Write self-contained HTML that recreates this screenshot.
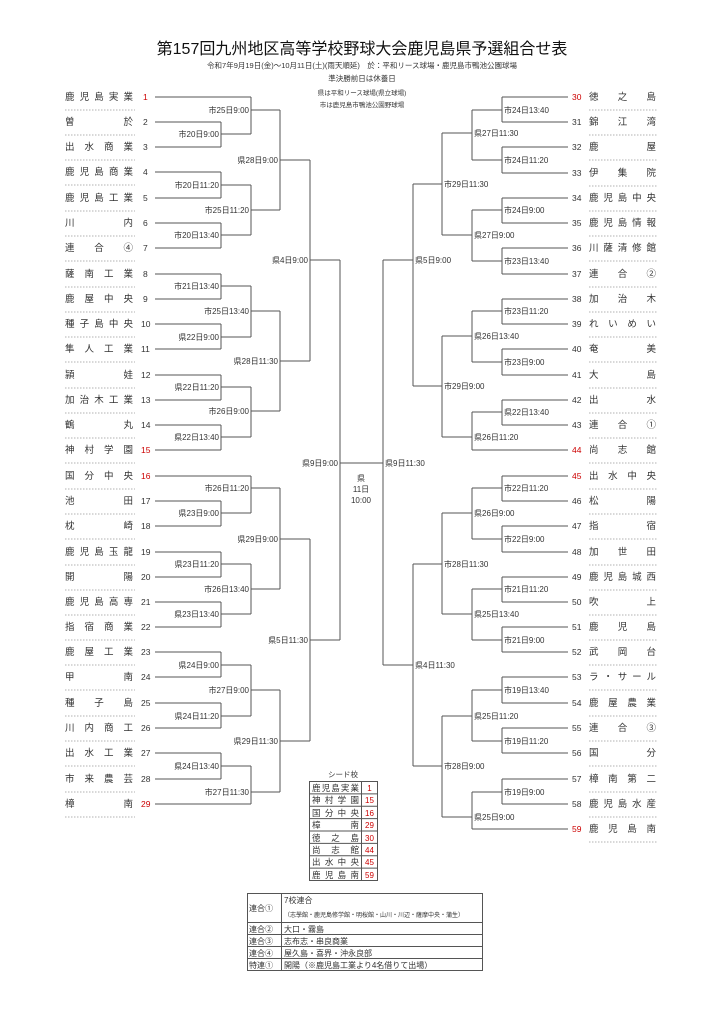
<!DOCTYPE html>
<html><head><meta charset="utf-8"><style>
html,body{margin:0;padding:0;background:#fff;}
svg{display:block;}
text{font-family:"Liberation Sans","Noto Sans CJK JP",sans-serif;fill:#333;}
.l{stroke:#555;stroke-width:1;fill:none;}
.d{stroke:#999;stroke-width:0.8;stroke-dasharray:1.5 1.5;}
.lb{font-size:8px;}
.nm{font-size:9.5px;}
.no{font-size:8.5px;}
.r{fill:#c00;}
</style></head><body>
<svg width="724" height="1024" viewBox="0 0 724 1024" xmlns="http://www.w3.org/2000/svg">
<rect width="724" height="1024" fill="#fff"/>
<text x="362" y="54" text-anchor="middle" font-size="16" style="fill:#111">第157回九州地区高等学校野球大会鹿児島県予選組合せ表</text>
<text x="362" y="68" text-anchor="middle" font-size="7.5">令和7年9月19日(金)～10月11日(土)(雨天順延)　於：平和リース球場・鹿児島市鴨池公園球場</text>
<text x="362" y="81" text-anchor="middle" font-size="7.5">準決勝前日は休養日</text>
<text x="362" y="95" text-anchor="middle" font-size="6.5">県は平和リース球場(県立球場)</text>
<text x="362" y="107" text-anchor="middle" font-size="6.5">市は鹿児島市鴨池公園野球場</text>

<!-- LEFT TEAMS -->
<g class="nm">
<text x="65" y="100" textLength="68" lengthAdjust="spacing">鹿児島実業</text>
<text x="65" y="125" textLength="68" lengthAdjust="spacing">曽於</text>
<text x="65" y="150" textLength="68" lengthAdjust="spacing">出水商業</text>
<text x="65" y="175" textLength="68" lengthAdjust="spacing">鹿児島商業</text>
<text x="65" y="201" textLength="68" lengthAdjust="spacing">鹿児島工業</text>
<text x="65" y="226" textLength="68" lengthAdjust="spacing">川内</text>
<text x="65" y="251" textLength="68" lengthAdjust="spacing">連合④</text>
<text x="65" y="277" textLength="68" lengthAdjust="spacing">薩南工業</text>
<text x="65" y="302" textLength="68" lengthAdjust="spacing">鹿屋中央</text>
<text x="65" y="327" textLength="68" lengthAdjust="spacing">種子島中央</text>
<text x="65" y="352" textLength="68" lengthAdjust="spacing">隼人工業</text>
<text x="65" y="378" textLength="68" lengthAdjust="spacing">頴娃</text>
<text x="65" y="403" textLength="68" lengthAdjust="spacing">加治木工業</text>
<text x="65" y="428" textLength="68" lengthAdjust="spacing">鶴丸</text>
<text x="65" y="453" textLength="68" lengthAdjust="spacing">神村学園</text>
<text x="65" y="479" textLength="68" lengthAdjust="spacing">国分中央</text>
<text x="65" y="504" textLength="68" lengthAdjust="spacing">池田</text>
<text x="65" y="529" textLength="68" lengthAdjust="spacing">枕崎</text>
<text x="65" y="555" textLength="68" lengthAdjust="spacing">鹿児島玉龍</text>
<text x="65" y="580" textLength="68" lengthAdjust="spacing">開陽</text>
<text x="65" y="605" textLength="68" lengthAdjust="spacing">鹿児島高専</text>
<text x="65" y="630" textLength="68" lengthAdjust="spacing">指宿商業</text>
<text x="65" y="655" textLength="68" lengthAdjust="spacing">鹿屋工業</text>
<text x="65" y="680" textLength="68" lengthAdjust="spacing">甲南</text>
<text x="65" y="706" textLength="68" lengthAdjust="spacing">種子島</text>
<text x="65" y="731" textLength="68" lengthAdjust="spacing">川内商工</text>
<text x="65" y="756" textLength="68" lengthAdjust="spacing">出水工業</text>
<text x="65" y="782" textLength="68" lengthAdjust="spacing">市来農芸</text>
<text x="65" y="807" textLength="68" lengthAdjust="spacing">樟南</text>
</g>
<g class="no">
<text x="143" y="100" class="r">1</text><text x="143" y="125">2</text><text x="143" y="150">3</text><text x="143" y="175">4</text><text x="143" y="201">5</text><text x="143" y="226">6</text><text x="143" y="251">7</text><text x="143" y="277">8</text><text x="143" y="302">9</text><text x="141" y="327">10</text><text x="141" y="352">11</text><text x="141" y="378">12</text><text x="141" y="403">13</text><text x="141" y="428">14</text><text x="141" y="453" class="r">15</text><text x="141" y="479" class="r">16</text><text x="141" y="504">17</text><text x="141" y="529">18</text><text x="141" y="555">19</text><text x="141" y="580">20</text><text x="141" y="605">21</text><text x="141" y="630">22</text><text x="141" y="655">23</text><text x="141" y="680">24</text><text x="141" y="706">25</text><text x="141" y="731">26</text><text x="141" y="756">27</text><text x="141" y="782">28</text><text x="141" y="807" class="r">29</text>
</g>
<path class="d" d="M65 110H135M65 135H135M65 160H135M65 185H135M65 211H135M65 236H135M65 261H135M65 287H135M65 312H135M65 337H135M65 362H135M65 388H135M65 413H135M65 438H135M65 463H135M65 489H135M65 514H135M65 539H135M65 565H135M65 590H135M65 615H135M65 640H135M65 665H135M65 690H135M65 716H135M65 741H135M65 766H135M65 792H135M65 817H135"/>

<!-- RIGHT TEAMS -->
<g class="nm">
<text x="589" y="100" textLength="67" lengthAdjust="spacing">徳之島</text>
<text x="589" y="125" textLength="67" lengthAdjust="spacing">錦江湾</text>
<text x="589" y="150" textLength="67" lengthAdjust="spacing">鹿屋</text>
<text x="589" y="176" textLength="67" lengthAdjust="spacing">伊集院</text>
<text x="589" y="201" textLength="67" lengthAdjust="spacing">鹿児島中央</text>
<text x="589" y="226" textLength="67" lengthAdjust="spacing">鹿児島情報</text>
<text x="589" y="251" textLength="67" lengthAdjust="spacing">川薩清修館</text>
<text x="589" y="277" textLength="67" lengthAdjust="spacing">連合②</text>
<text x="589" y="302" textLength="67" lengthAdjust="spacing">加治木</text>
<text x="589" y="327" textLength="67" lengthAdjust="spacing">れいめい</text>
<text x="589" y="352" textLength="67" lengthAdjust="spacing">奄美</text>
<text x="589" y="378" textLength="67" lengthAdjust="spacing">大島</text>
<text x="589" y="403" textLength="67" lengthAdjust="spacing">出水</text>
<text x="589" y="428" textLength="67" lengthAdjust="spacing">連合①</text>
<text x="589" y="453" textLength="67" lengthAdjust="spacing">尚志館</text>
<text x="589" y="479" textLength="67" lengthAdjust="spacing">出水中央</text>
<text x="589" y="504" textLength="67" lengthAdjust="spacing">松陽</text>
<text x="589" y="529" textLength="67" lengthAdjust="spacing">指宿</text>
<text x="589" y="555" textLength="67" lengthAdjust="spacing">加世田</text>
<text x="589" y="580" textLength="67" lengthAdjust="spacing">鹿児島城西</text>
<text x="589" y="605" textLength="67" lengthAdjust="spacing">吹上</text>
<text x="589" y="630" textLength="67" lengthAdjust="spacing">鹿児島</text>
<text x="589" y="655" textLength="67" lengthAdjust="spacing">武岡台</text>
<text x="589" y="680" textLength="67" lengthAdjust="spacing">ラ・サール</text>
<text x="589" y="706" textLength="67" lengthAdjust="spacing">鹿屋農業</text>
<text x="589" y="731" textLength="67" lengthAdjust="spacing">連合③</text>
<text x="589" y="756" textLength="67" lengthAdjust="spacing">国分</text>
<text x="589" y="782" textLength="67" lengthAdjust="spacing">樟南第二</text>
<text x="589" y="807" textLength="67" lengthAdjust="spacing">鹿児島水産</text>
<text x="589" y="832" textLength="67" lengthAdjust="spacing">鹿児島南</text>
</g>
<g class="no">
<text x="572" y="100" class="r">30</text><text x="572" y="125">31</text><text x="572" y="150">32</text><text x="572" y="176">33</text><text x="572" y="201">34</text><text x="572" y="226">35</text><text x="572" y="251">36</text><text x="572" y="277">37</text><text x="572" y="302">38</text><text x="572" y="327">39</text><text x="572" y="352">40</text><text x="572" y="378">41</text><text x="572" y="403">42</text><text x="572" y="428">43</text><text x="572" y="453" class="r">44</text><text x="572" y="479" class="r">45</text><text x="572" y="504">46</text><text x="572" y="529">47</text><text x="572" y="555">48</text><text x="572" y="580">49</text><text x="572" y="605">50</text><text x="572" y="630">51</text><text x="572" y="655">52</text><text x="572" y="680">53</text><text x="572" y="706">54</text><text x="572" y="731">55</text><text x="572" y="756">56</text><text x="572" y="782">57</text><text x="572" y="807">58</text><text x="572" y="832" class="r">59</text>
</g>
<path class="d" d="M589 110H657M589 135H657M589 160H657M589 186H657M589 211H657M589 236H657M589 261H657M589 287H657M589 312H657M589 337H657M589 362H657M589 388H657M589 413H657M589 438H657M589 463H657M589 489H657M589 514H657M589 539H657M589 565H657M589 590H657M589 615H657M589 640H657M589 665H657M589 690H657M589 716H657M589 741H657M589 766H657M589 792H657M589 817H657M589 842H657"/>

<!-- LEFT BRACKET LINES -->
<path class="l" d="
M155 97H251 M155 122H221 M155 147H221 M155 172H221 M155 198H221 M155 223H221 M155 248H221
M155 274H221 M155 299H221 M155 324H221 M155 349H221 M155 375H221 M155 400H221 M155 425H221 M155 450H221
M155 476H251 M155 501H221 M155 526H221 M155 552H221 M155 577H221 M155 602H221 M155 627H221
M155 652H221 M155 677H221 M155 703H221 M155 728H221 M155 753H221 M155 779H221 M155 804H251
M221 122V147 M221 134H251 M221 172V198 M221 185H251 M221 223V248 M221 235H251
M221 274V299 M221 286H251 M221 324V349 M221 337H251 M221 375V400 M221 387H251 M221 425V450 M221 437H251
M221 501V526 M221 513H251 M221 552V577 M221 564H251 M221 602V627 M221 614H251
M221 652V677 M221 665H251 M221 703V728 M221 716H251 M221 753V779 M221 766H251
M251 97V134 M251 110H280 M251 185V235 M251 210H280 M251 286V337 M251 311H280 M251 387V437 M251 411H280
M251 476V513 M251 488H280 M251 564V614 M251 589H280 M251 665V716 M251 690H280 M251 766V804 M251 792H280
M280 110V210 M280 160H310 M280 311V411 M280 361H310 M280 488V589 M280 539H310 M280 690V792 M280 741H310
M310 160V361 M310 260H340 M310 539V741 M310 640H340
M340 260V640 M340 463H383
"/>
<!-- RIGHT BRACKET LINES -->
<path class="l" d="
M568 97H502 M568 122H502 M568 147H502 M568 173H502 M568 198H502 M568 223H502 M568 248H502 M568 274H502
M568 299H502 M568 324H502 M568 349H502 M568 375H502 M568 400H502 M568 425H502 M568 450H472
M568 476H502 M568 501H502 M568 526H502 M568 552H502 M568 577H502 M568 602H502 M568 627H502 M568 652H502
M568 677H502 M568 703H502 M568 728H502 M568 753H502 M568 779H502 M568 804H502 M568 829H472
M502 97V122 M502 110H472 M502 147V173 M502 160H472 M502 198V223 M502 210H472 M502 248V274 M502 261H472
M502 299V324 M502 311H472 M502 349V375 M502 362H472 M502 400V425 M502 412H472
M502 476V501 M502 488H472 M502 526V552 M502 539H472 M502 577V602 M502 589H472 M502 627V652 M502 640H472
M502 677V703 M502 690H472 M502 728V753 M502 741H472 M502 779V804 M502 792H472
M472 110V160 M472 133H442 M472 210V261 M472 235H442 M472 311V362 M472 336H442 M472 412V450 M472 437H442
M472 488V539 M472 513H442 M472 589V640 M472 614H442 M472 690V741 M472 716H442 M472 792V829 M472 817H442
M442 133V235 M442 184H413 M442 336V437 M442 386H413 M442 513V614 M442 564H413 M442 716V817 M442 766H413
M413 184V386 M413 260H383 M413 564V766 M413 665H383
M383 260V665
"/>

<!-- LEFT LABELS -->
<g class="lb" text-anchor="end">
<text x="249" y="113">市25日9:00</text>
<text x="219" y="137">市20日9:00</text>
<text x="278" y="163">県28日9:00</text>
<text x="219" y="188">市20日11:20</text>
<text x="249" y="213">市25日11:20</text>
<text x="219" y="238">市20日13:40</text>
<text x="308" y="263">県4日9:00</text>
<text x="219" y="289">市21日13:40</text>
<text x="249" y="314">市25日13:40</text>
<text x="219" y="340">県22日9:00</text>
<text x="278" y="364">県28日11:30</text>
<text x="219" y="390">県22日11:20</text>
<text x="249" y="414">市26日9:00</text>
<text x="219" y="440">県22日13:40</text>
<text x="338" y="466">県9日9:00</text>
<text x="249" y="491">市26日11:20</text>
<text x="219" y="516">県23日9:00</text>
<text x="278" y="542">県29日9:00</text>
<text x="219" y="567">県23日11:20</text>
<text x="249" y="592">市26日13:40</text>
<text x="219" y="617">県23日13:40</text>
<text x="308" y="643">県5日11:30</text>
<text x="219" y="668">県24日9:00</text>
<text x="249" y="693">市27日9:00</text>
<text x="219" y="719">県24日11:20</text>
<text x="278" y="744">県29日11:30</text>
<text x="219" y="769">県24日13:40</text>
<text x="249" y="795">市27日11:30</text>
</g>
<!-- RIGHT LABELS -->
<g class="lb">
<text x="504" y="113">市24日13:40</text>
<text x="474" y="136">県27日11:30</text>
<text x="504" y="163">市24日11:20</text>
<text x="444" y="187">市29日11:30</text>
<text x="504" y="213">市24日9:00</text>
<text x="474" y="238">県27日9:00</text>
<text x="504" y="264">市23日13:40</text>
<text x="415" y="263">県5日9:00</text>
<text x="504" y="314">市23日11:20</text>
<text x="474" y="339">県26日13:40</text>
<text x="504" y="365">市23日9:00</text>
<text x="444" y="389">市29日9:00</text>
<text x="504" y="415">県22日13:40</text>
<text x="474" y="440">県26日11:20</text>
<text x="385" y="466">県9日11:30</text>
<text x="504" y="491">市22日11:20</text>
<text x="474" y="516">県26日9:00</text>
<text x="504" y="542">市22日9:00</text>
<text x="444" y="567">市28日11:30</text>
<text x="504" y="592">市21日11:20</text>
<text x="474" y="617">県25日13:40</text>
<text x="504" y="643">市21日9:00</text>
<text x="415" y="668">県4日11:30</text>
<text x="504" y="693">市19日13:40</text>
<text x="474" y="719">県25日11:20</text>
<text x="504" y="744">市19日11:20</text>
<text x="444" y="769">市28日9:00</text>
<text x="504" y="795">市19日9:00</text>
<text x="474" y="820">県25日9:00</text>
</g>
<g class="lb" text-anchor="middle">
<text x="361" y="481">県</text>
<text x="361" y="492">11日</text>
<text x="361" y="503">10:00</text>
</g>

<!-- SEED TABLE -->
<text x="343" y="777" text-anchor="middle" font-size="7.5">シード校</text>
<g class="l">
<rect x="309.5" y="781.5" width="68" height="99"/>
<path d="M361.5 781.5V880.5 M309.5 793.9H377.5 M309.5 806.3H377.5 M309.5 818.6H377.5 M309.5 831H377.5 M309.5 843.4H377.5 M309.5 855.8H377.5 M309.5 868.1H377.5"/>
</g>
<g font-size="8.5">
<text x="312" y="791" textLength="47" lengthAdjust="spacing">鹿児島実業</text>
<text x="312" y="803" textLength="47" lengthAdjust="spacing">神村学園</text>
<text x="312" y="816" textLength="47" lengthAdjust="spacing">国分中央</text>
<text x="312" y="828" textLength="47" lengthAdjust="spacing">樟南</text>
<text x="312" y="841" textLength="47" lengthAdjust="spacing">徳之島</text>
<text x="312" y="853" textLength="47" lengthAdjust="spacing">尚志館</text>
<text x="312" y="865" textLength="47" lengthAdjust="spacing">出水中央</text>
<text x="312" y="878" textLength="47" lengthAdjust="spacing">鹿児島南</text>
</g>
<g font-size="8" text-anchor="middle">
<text x="369.5" y="791" class="r">1</text>
<text x="369.5" y="803" class="r">15</text>
<text x="369.5" y="816" class="r">16</text>
<text x="369.5" y="828" class="r">29</text>
<text x="369.5" y="841" class="r">30</text>
<text x="369.5" y="853" class="r">44</text>
<text x="369.5" y="865" class="r">45</text>
<text x="369.5" y="878" class="r">59</text>
</g>

<!-- LEGEND TABLE -->
<g class="l">
<rect x="247.5" y="893.5" width="235" height="77"/>
<path d="M281.5 893.5V970.5 M247.5 922.5H482.5 M247.5 934.5H482.5 M247.5 946.5H482.5 M247.5 958.5H482.5"/>
</g>
<g font-size="8">
<text x="249" y="911">連合①</text>
<text x="284" y="903">7校連合</text>
<text x="284" y="917" font-size="6">（志學館・鹿児島修学館・明桜館・山川・川辺・薩摩中央・蒲生）</text>
<text x="249" y="932">連合②</text><text x="284" y="932">大口・霧島</text>
<text x="249" y="944">連合③</text><text x="284" y="944">志布志・串良商業</text>
<text x="249" y="956">連合④</text><text x="284" y="956">屋久島・喜界・沖永良部</text>
<text x="249" y="968">特連①</text><text x="284" y="968">開陽（※鹿児島工業より4名借りて出場）</text>
</g>
</svg>
</body></html>
